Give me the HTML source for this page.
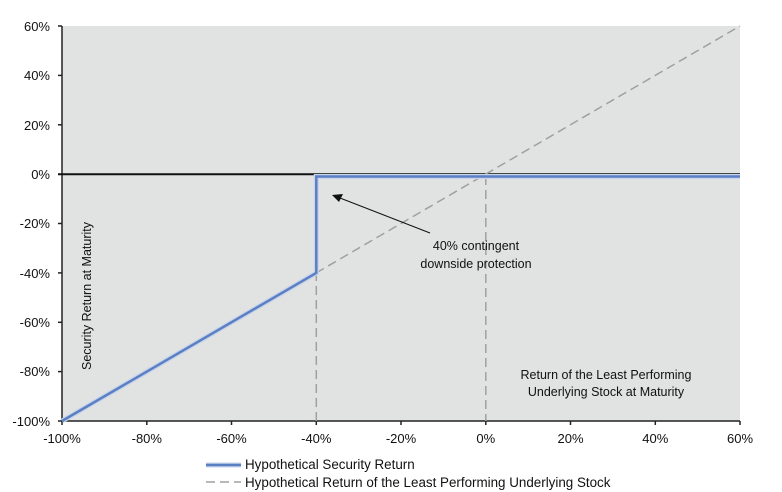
<!DOCTYPE html>
<html><head><style>body{margin:0;background:#fff}svg{display:block;font-family:"Liberation Sans",Arial,sans-serif}</style></head><body>
<svg width="782" height="492" viewBox="0 0 782 492">
<rect x="62" y="26" width="678" height="395" fill="#e1e2e2"/>
<g stroke="#222" stroke-width="1.5">
<line x1="62" y1="26" x2="62" y2="421"/>
<line x1="62" y1="421" x2="740" y2="421"/>
<line x1="58" y1="26" x2="62" y2="26"/><line x1="58" y1="75.4" x2="62" y2="75.4"/><line x1="58" y1="124.8" x2="62" y2="124.8"/><line x1="58" y1="223.5" x2="62" y2="223.5"/><line x1="58" y1="272.9" x2="62" y2="272.9"/><line x1="58" y1="322.3" x2="62" y2="322.3"/><line x1="58" y1="371.6" x2="62" y2="371.6"/><line x1="58" y1="421" x2="62" y2="421"/>
<line x1="62" y1="421" x2="62" y2="425"/><line x1="146.8" y1="421" x2="146.8" y2="425"/><line x1="231.5" y1="421" x2="231.5" y2="425"/><line x1="316.3" y1="421" x2="316.3" y2="425"/><line x1="401" y1="421" x2="401" y2="425"/><line x1="485.8" y1="421" x2="485.8" y2="425"/><line x1="570.5" y1="421" x2="570.5" y2="425"/><line x1="655.3" y1="421" x2="655.3" y2="425"/><line x1="740" y1="421" x2="740" y2="425"/>
</g>
<line x1="58" y1="174.2" x2="740" y2="174.2" stroke="#111" stroke-width="2"/>
<g stroke="#a0a0a0" stroke-width="1.5" stroke-dasharray="9,5" fill="none">
<line x1="62" y1="421" x2="740" y2="26"/>
<line x1="316.3" y1="272" x2="316.3" y2="421"/>
<line x1="485.8" y1="176" x2="485.8" y2="421"/>
</g>
<polyline points="62,421 316.3,272.9 316.3,176.5 740,176.5" fill="none" stroke="#c8d4ea" stroke-width="5"/>
<polyline points="62,421 316.3,272.9 316.3,176.5 740,176.5" fill="none" stroke="#5b7fc4" stroke-width="2.5"/>
<line x1="430" y1="233" x2="340" y2="198" stroke="#111" stroke-width="1"/>
<polygon points="332,195 343,194 339,202" fill="#111"/>
<g font-size="13" fill="#111" text-anchor="end">
<text x="50" y="31">60%</text><text x="50" y="80">40%</text><text x="50" y="130">20%</text><text x="50" y="179">0%</text><text x="50" y="228">-20%</text><text x="50" y="278">-40%</text><text x="50" y="327">-60%</text><text x="50" y="376">-80%</text><text x="50" y="426">-100%</text>
</g>
<g font-size="13" fill="#111" text-anchor="middle">
<text x="62" y="443">-100%</text><text x="146.8" y="443">-80%</text><text x="231.5" y="443">-60%</text><text x="316.3" y="443">-40%</text><text x="401" y="443">-20%</text><text x="485.8" y="443">0%</text><text x="570.5" y="443">20%</text><text x="655.3" y="443">40%</text><text x="740" y="443">60%</text>
<text x="476" y="250" font-size="12.5">40% contingent</text>
<text x="476" y="268" font-size="12.5">downside protection</text>
<text x="606" y="379" font-size="12.5">Return of the Least Performing</text>
<text x="606" y="396" font-size="12.5">Underlying Stock at Maturity</text>
<text transform="translate(91,296) rotate(-90)" font-size="12.5">Security Return at Maturity</text>
</g>
<line x1="206" y1="465" x2="241" y2="465" stroke="#c8d4ea" stroke-width="5"/>
<line x1="206" y1="465" x2="241" y2="465" stroke="#5b7fc4" stroke-width="2.5"/>
<line x1="206" y1="482" x2="241" y2="482" stroke="#a0a0a0" stroke-width="1.5" stroke-dasharray="9,5"/>
<g font-size="13.4" fill="#111">
<text x="245" y="469">Hypothetical Security Return</text>
<text x="245" y="487">Hypothetical Return of the Least Performing Underlying Stock</text>
</g>
</svg>
</body></html>
